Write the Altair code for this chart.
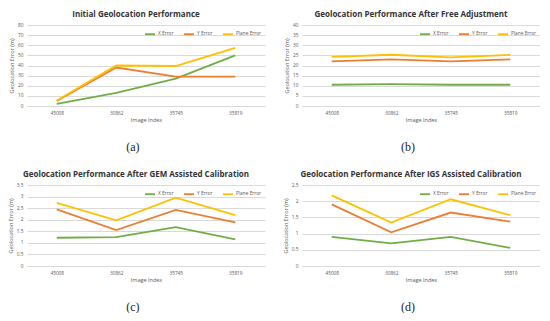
import altair as alt
import pandas as pd

IMAGES = ["45008", "30862", "35745", "35819"]
SERIES = ["X Error", "Y Error", "Plane Error"]
COLORS = ["#70AD47", "#ED7D31", "#FFC000"]

A_X = [2, 13, 27, 50]
A_Y = [5, 38, 29, 29]
A_P = [5.5, 40, 39.5, 57.5]

B_X = [10.5, 10.8, 10.5, 10.5]
B_Y = [22, 23, 22, 23]
B_P = [24.3, 25.3, 24, 25.3]

C_X = [1.22, 1.25, 1.68, 1.15]
C_Y = [2.45, 1.55, 2.42, 1.88]
C_P = [2.73, 1.97, 2.95, 2.2]

D_X = [0.9, 0.7, 0.9, 0.56]
D_Y = [1.9, 1.04, 1.65, 1.37]
D_P = [2.18, 1.34, 2.06, 1.57]

TITLES = [
    "Initial Geolocation Performance",
    "Geolocation Performance After Free Adjustment",
    "Geolocation Performance After GEM Assisted Calibration",
    "Geolocation Performance After IGS Assisted Calibration",
]
CAPTIONS = ["(a)", "(b)", "(c)", "(d)"]
Y_MAX = [80, 40, 3.5, 2.5]
Y_STEP = [10, 5, 0.5, 0.5]

W = 238
H = 81
FONT = "Open Sans"
GREY = "#595959"


def panel(xs, ys, ps, title, caption, ymax, step):
    rows = []
    for name, vals in zip(SERIES, [xs, ys, ps]):
        for img, v in zip(IMAGES, vals):
            rows.append({"image": img, "series": name, "value": v})
    df = pd.DataFrame(rows)
    n = int(round(ymax / step))
    ticks = [round(i * step, 2) for i in range(n + 1)]

    lines = alt.Chart(df).mark_line(strokeWidth=1.8).encode(
        x=alt.X("image:N", sort=IMAGES, scale=alt.Scale(domain=IMAGES),
                axis=alt.Axis(title="Image Index", labelAngle=0, ticks=False,
                              domain=True, domainColor="#d9d9d9",
                              labelFontSize=4.8, labelColor=GREY, labelPadding=4,
                              titleFontSize=5.5, titleColor=GREY, titleFontWeight="normal",
                              titlePadding=3, labelFont=FONT, titleFont=FONT)),
        y=alt.Y("value:Q", scale=alt.Scale(domain=[0, ymax], nice=False),
                axis=alt.Axis(title="Geolocation Error (m)", values=ticks, format="~r",
                              ticks=False, domain=False, gridColor="#d9d9d9",
                              labelFontSize=4.8, labelColor=GREY, labelPadding=4,
                              titleFontSize=5.5, titleColor=GREY, titleFontWeight="normal",
                              titlePadding=3, labelFont=FONT, titleFont=FONT)),
        color=alt.Color("series:N", sort=SERIES,
                        scale=alt.Scale(domain=SERIES, range=COLORS),
                        legend=alt.Legend(orient="top-right", direction="horizontal",
                                          title=None, symbolType="stroke",
                                          symbolStrokeWidth=1.8, symbolSize=100,
                                          labelFontSize=4.8, labelColor=GREY,
                                          labelFont=FONT, columnPadding=6,
                                          labelOffset=2, offset=3, padding=0)),
    )
    cap = alt.Chart(pd.DataFrame({"t": [caption]})).mark_text(
        font="Liberation Serif", fontSize=12, color="#222222", baseline="middle"
    ).encode(text="t:N", x=alt.value(W * 0.445), y=alt.value(H + 41))

    return alt.layer(lines, cap).properties(
        width=W, height=H,
        title=alt.TitleParams(title, fontSize=8, font=FONT, fontWeight="bold",
                              color="#333333", offset=3, dx=-10),
    )


charts = [
    panel(A_X, A_Y, A_P, TITLES[0], CAPTIONS[0], Y_MAX[0], Y_STEP[0]),
    panel(B_X, B_Y, B_P, TITLES[1], CAPTIONS[1], Y_MAX[1], Y_STEP[1]),
    panel(C_X, C_Y, C_P, TITLES[2], CAPTIONS[2], Y_MAX[2], Y_STEP[2]),
    panel(D_X, D_Y, D_P, TITLES[3], CAPTIONS[3], Y_MAX[3], Y_STEP[3]),
]

chart = alt.concat(*charts, columns=2, spacing=18).resolve_scale(
    color="independent", y="independent"
).properties(padding={"left": 0, "top": 3, "right": 0, "bottom": 0}).configure_view(
    stroke=None
).configure_concat(spacing=17)

chart.save("out.html", embed_options={"renderer": "svg", "actions": False})
